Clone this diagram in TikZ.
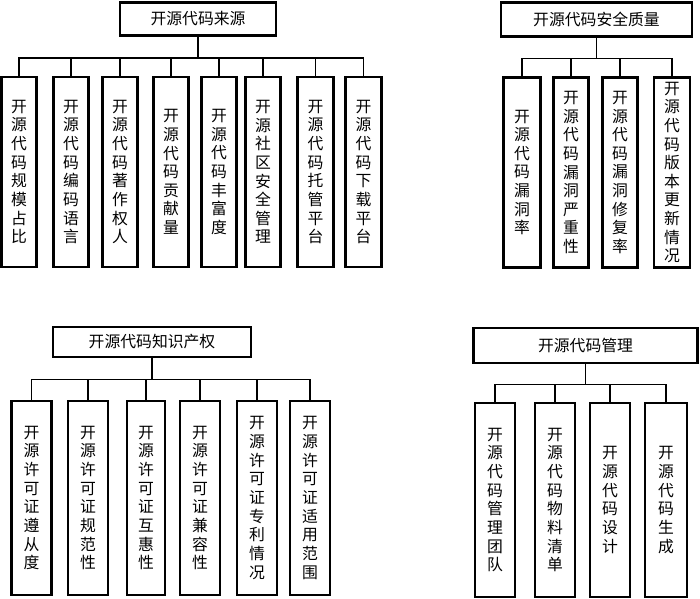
\documentclass[tikz,border=0pt]{standalone}
\usepackage{fontspec}
\setmainfont{Noto Sans CJK SC}
\usetikzlibrary{positioning}

\begin{document}
\begin{tikzpicture}[
  x=0.03cm,y=-0.03cm,
  box/.style={draw=black,line width=2.4pt,fill=white,inner sep=0pt,align=center,
    font=\fontsize{13.5}{15.9}\selectfont},
  head/.style={box,minimum height=1cm},
  leaf/.style={box,minimum width=1.06cm,minimum height=5.7cm},
  wide leaf/.style={box,minimum width=1.2cm,minimum height=5.82cm},
  link/.style={draw=black,line width=1.1pt}
]
\useasboundingbox (0,0) rectangle (700,599);

% 开源代码来源
\node[head,minimum width=4.68cm] (src) at (198,19) {开源代码来源};
\node[leaf] (src1) at (19,172) {开\\源\\代\\码\\规\\模\\占\\比};
\node[leaf] (src2) at (71,172) {开\\源\\代\\码\\编\\码\\语\\言};
\node[leaf] (src3) at (120,172) {开\\源\\代\\码\\著\\作\\权\\人};
\node[leaf] (src4) at (171,172) {开\\源\\代\\码\\贡\\献\\量};
\node[leaf] (src5) at (219,172) {开\\源\\代\\码\\丰\\富\\度};
\node[leaf] (src6) at (263,172) {开\\源\\社\\区\\安\\全\\管\\理};
\node[leaf] (src7) at (315.5,172) {开\\源\\代\\码\\托\\管\\平\\台};
\node[leaf] (src8) at (363.5,172) {开\\源\\代\\码\\下\\载\\平\\台};
\foreach \c in {src1,src2,src3,src4,src5,src6,src7,src8}
  \draw[link] (src.south) -- ++(0,21) -| (\c.north);

% 开源代码安全质量
\node[head,minimum width=5.73cm] (sec) at (596.5,19.5) {开源代码安全质量};
\node[leaf,minimum width=1.12cm] (sec1) at (522,172.5) {开\\源\\代\\码\\漏\\洞\\率};
\node[leaf] (sec2) at (571,172.5) {开\\源\\代\\码\\漏\\洞\\严\\重\\性};
\node[leaf] (sec3) at (620,172.5) {开\\源\\代\\码\\漏\\洞\\修\\复\\率};
\node[leaf,minimum width=1.08cm] (sec4) at (672,172.5) {开\\源\\代\\码\\版\\本\\更\\新\\情\\况};
\foreach \c in {sec1,sec2,sec3,sec4}
  \draw[link] (sec.south) -- ++(0,21) -| (\c.north);

% 开源代码知识产权
\node[head,minimum width=5.94cm,minimum height=0.9cm] (ip) at (152,342) {开源代码知识产权};
\node[wide leaf] (ip1) at (31.5,498) {开\\源\\许\\可\\证\\遵\\从\\度};
\node[wide leaf] (ip2) at (88,498) {开\\源\\许\\可\\证\\规\\范\\性};
\node[wide leaf,minimum width=1.14cm] (ip3) at (146,498) {开\\源\\许\\可\\证\\互\\惠\\性};
\node[wide leaf] (ip4) at (200,498) {开\\源\\许\\可\\证\\兼\\容\\性};
\node[wide leaf] (ip5) at (257,498) {开\\源\\许\\可\\证\\专\\利\\情\\况};
\node[wide leaf] (ip6) at (310,498) {开\\源\\许\\可\\证\\适\\用\\范\\围};
\foreach \c in {ip1,ip2,ip3,ip4,ip5,ip6}
  \draw[link] (ip.south) -- ++(0,21) -| (\c.north);

% 开源代码管理
\node[head,minimum width=6.72cm,minimum height=1.05cm] (mgt) at (585.5,345.5) {开源代码管理};
\node[wide leaf] (mgt1) at (495,500) {开\\源\\代\\码\\管\\理\\团\\队};
\node[wide leaf] (mgt2) at (555,500) {开\\源\\代\\码\\物\\料\\清\\单};
\node[wide leaf] (mgt3) at (610,500) {开\\源\\代\\码\\设\\计};
\node[wide leaf,minimum width=1.26cm] (mgt4) at (666,500) {开\\源\\代\\码\\生\\成};
\foreach \c in {mgt1,mgt2,mgt3,mgt4}
  \draw[link] (mgt.south) -- ++(0,20) -| (\c.north);
\end{tikzpicture}
\end{document}
